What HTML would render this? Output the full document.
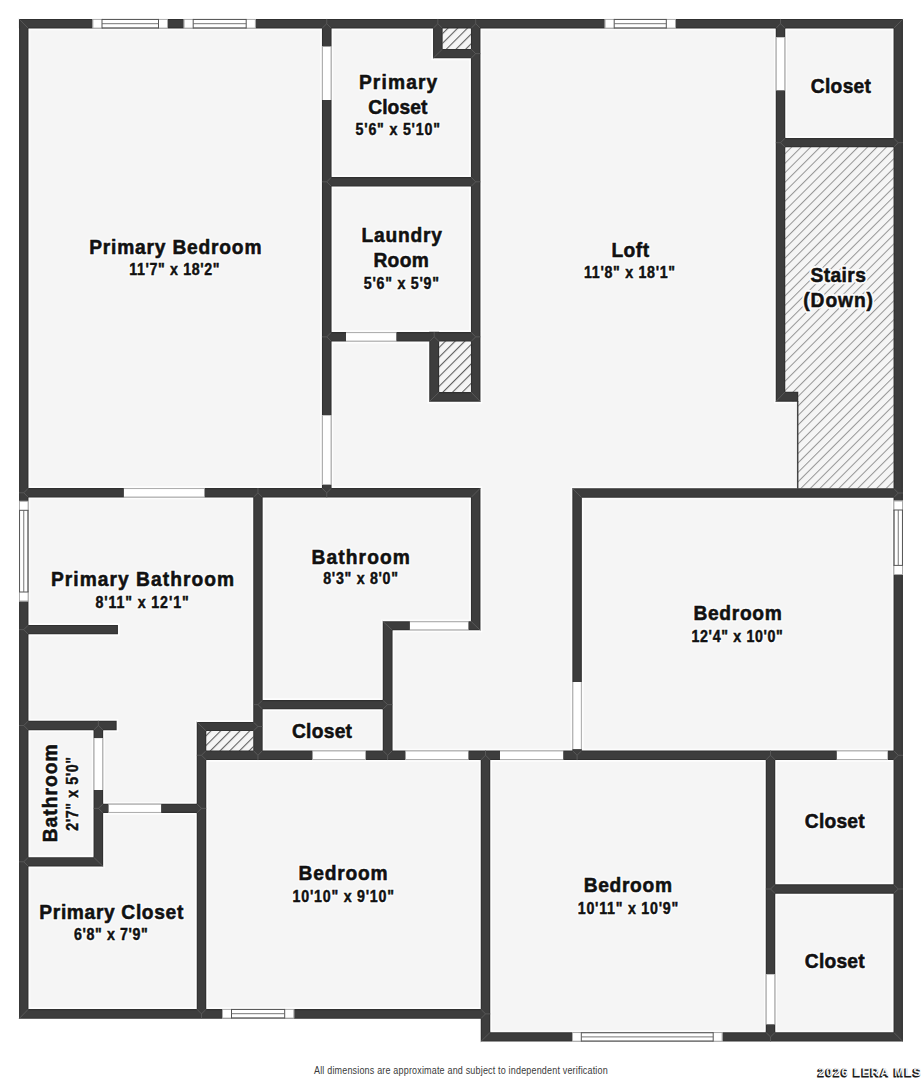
<!DOCTYPE html>
<html><head><meta charset="utf-8"><style>
html,body{margin:0;padding:0;background:#fff;}
svg{display:block;font-family:"Liberation Sans",sans-serif;}
</style></head><body>
<svg width="922" height="1080" viewBox="0 0 922 1080">
<defs>
<pattern id="hatch" patternUnits="userSpaceOnUse" width="6.7" height="6.7" patternTransform="rotate(45)">
<rect width="6.7" height="6.7" fill="#f5f5f5"/>
<rect x="0" y="0" width="1.0" height="6.7" fill="#959595"/>
</pattern>
<pattern id="hatch2" patternUnits="userSpaceOnUse" width="6.86" height="6.86" patternTransform="rotate(45)">
<rect width="6.86" height="6.86" fill="#f5f5f5"/>
<rect x="0" y="0" width="1.1" height="6.86" fill="#606060"/>
</pattern>
</defs>
<rect width="922" height="1080" fill="#fff"/>
<path d="M19.2 19.2 H902.7 V1041.3 H481 V1018.2 H19.2 Z" fill="#f5f5f5"/>
<path d="M18.95 18.95H902.95V28.45H18.95ZM19.05 18.95H28.45V1018.45H19.05ZM893.55 18.95H902.95V1041.55H893.55ZM19.05 1009.05H490.25V1018.75H19.05ZM480.75 1032.25H902.95V1041.55H480.75ZM480.75 750.75H490.25V1041.55H480.75ZM321.95 18.95H331.55V497.55H321.95ZM470.95 18.95H480.45V401.65H470.95ZM433.05 18.95H442.65V58.35H433.05ZM433.05 48.95H480.45V58.35H433.05ZM321.95 177.05H480.45V186.55H321.95ZM321.95 332.10H480.45V341.60H321.95ZM429.25 331.75H439.15V401.65H429.25ZM429.25 392.05H480.45V401.65H429.25ZM775.75 18.95H785.25V401.65H775.75ZM775.75 138.05H902.95V147.35H775.75ZM775.75 391.75H798.25V401.65H775.75ZM19.05 488.05H480.45V497.55H19.05ZM572.35 488.25H902.95V497.75H572.35ZM253.25 488.05H262.65V759.95H253.25ZM470.95 488.05H480.45V630.35H470.95ZM382.75 621.25H480.45V630.35H382.75ZM382.75 621.25H392.55V759.95H382.75ZM253.25 700.05H392.55V709.25H253.25ZM196.75 750.45H902.95V760.05H196.75ZM572.35 488.25H581.85V759.95H572.35ZM19.05 624.95H117.95V634.35H19.05ZM19.05 720.75H116.65V730.25H19.05ZM93.55 720.75H103.15V866.45H93.55ZM19.05 857.15H103.15V866.45H19.05ZM93.55 803.75H206.25V812.95H93.55ZM196.75 721.95H206.25V1018.45H196.75ZM196.95 721.95H262.35V731.05H196.95ZM765.75 750.75H775.25V1041.55H765.75ZM765.75 884.35H902.95V893.65H765.75Z" fill="none" stroke="#ffffff" stroke-opacity="0.75" stroke-width="3.6"/>
<rect x="442.40" y="27.80" width="28.50" height="21.40" fill="url(#hatch2)" />
<rect x="438.90" y="341.00" width="32.30" height="51.30" fill="url(#hatch2)" />
<rect x="206.00" y="730.80" width="47.50" height="20.20" fill="url(#hatch2)" />
<rect x="785.00" y="147.00" width="108.80" height="254.40" fill="url(#hatch)" />
<rect x="797.50" y="392.00" width="96.30" height="96.50" fill="url(#hatch)" />
<line x1="797.7" y1="401" x2="797.7" y2="488.5" stroke="#444" stroke-width="1.5"/>
<path d="M18.95 18.95H902.95V28.45H18.95ZM19.05 18.95H28.45V1018.45H19.05ZM893.55 18.95H902.95V1041.55H893.55ZM19.05 1009.05H490.25V1018.75H19.05ZM480.75 1032.25H902.95V1041.55H480.75ZM480.75 750.75H490.25V1041.55H480.75ZM321.95 18.95H331.55V497.55H321.95ZM470.95 18.95H480.45V401.65H470.95ZM433.05 18.95H442.65V58.35H433.05ZM433.05 48.95H480.45V58.35H433.05ZM321.95 177.05H480.45V186.55H321.95ZM321.95 332.10H480.45V341.60H321.95ZM429.25 331.75H439.15V401.65H429.25ZM429.25 392.05H480.45V401.65H429.25ZM775.75 18.95H785.25V401.65H775.75ZM775.75 138.05H902.95V147.35H775.75ZM775.75 391.75H798.25V401.65H775.75ZM19.05 488.05H480.45V497.55H19.05ZM572.35 488.25H902.95V497.75H572.35ZM253.25 488.05H262.65V759.95H253.25ZM470.95 488.05H480.45V630.35H470.95ZM382.75 621.25H480.45V630.35H382.75ZM382.75 621.25H392.55V759.95H382.75ZM253.25 700.05H392.55V709.25H253.25ZM196.75 750.45H902.95V760.05H196.75ZM572.35 488.25H581.85V759.95H572.35ZM19.05 624.95H117.95V634.35H19.05ZM19.05 720.75H116.65V730.25H19.05ZM93.55 720.75H103.15V866.45H93.55ZM19.05 857.15H103.15V866.45H19.05ZM93.55 803.75H206.25V812.95H93.55ZM196.75 721.95H206.25V1018.45H196.75ZM196.95 721.95H262.35V731.05H196.95ZM765.75 750.75H775.25V1041.55H765.75ZM765.75 884.35H902.95V893.65H765.75Z" fill="#303030"/>
<path d="M20.05 20.05H901.85V27.35H20.05ZM20.15 20.05H27.35V1017.35H20.15ZM894.65 20.05H901.85V1040.45H894.65ZM20.15 1010.15H489.15V1017.65H20.15ZM481.85 1033.35H901.85V1040.45H481.85ZM481.85 751.85H489.15V1040.45H481.85ZM323.05 20.05H330.45V496.45H323.05ZM472.05 20.05H479.35V400.55H472.05ZM434.15 20.05H441.55V57.25H434.15ZM434.15 50.05H479.35V57.25H434.15ZM323.05 178.15H479.35V185.45H323.05ZM323.05 333.20H479.35V340.50H323.05ZM430.35 332.85H438.05V400.55H430.35ZM430.35 393.15H479.35V400.55H430.35ZM776.85 20.05H784.15V400.55H776.85ZM776.85 139.15H901.85V146.25H776.85ZM776.85 392.85H797.15V400.55H776.85ZM20.15 489.15H479.35V496.45H20.15ZM573.45 489.35H901.85V496.65H573.45ZM254.35 489.15H261.55V758.85H254.35ZM472.05 489.15H479.35V629.25H472.05ZM383.85 622.35H479.35V629.25H383.85ZM383.85 622.35H391.45V758.85H383.85ZM254.35 701.15H391.45V708.15H254.35ZM197.85 751.55H901.85V758.95H197.85ZM573.45 489.35H580.75V758.85H573.45ZM20.15 626.05H116.85V633.25H20.15ZM20.15 721.85H115.55V729.15H20.15ZM94.65 721.85H102.05V865.35H94.65ZM20.15 858.25H102.05V865.35H20.15ZM94.65 804.85H205.15V811.85H94.65ZM197.85 723.05H205.15V1017.35H197.85ZM198.05 723.05H261.25V729.95H198.05ZM766.85 751.85H774.15V1040.45H766.85ZM766.85 885.45H901.85V892.55H766.85Z" fill="#3d3d3d"/>
<path d="M19.05 18.95L28.45 28.45M902.95 18.95L893.55 28.45M326.75 18.95V23.70L321.95 28.45M326.75 23.70L331.55 28.45M475.70 18.95V23.70L470.95 28.45M475.70 23.70L480.45 28.45M437.85 18.95V23.70L433.05 28.45M437.85 23.70L442.65 28.45M780.50 18.95V23.70L775.75 28.45M780.50 23.70L785.25 28.45M19.05 1018.75L28.45 1009.05M19.05 492.80H23.75L28.45 488.05M23.75 492.80L28.45 497.55M19.05 629.65H23.75L28.45 624.95M23.75 629.65L28.45 634.35M19.05 725.50H23.75L28.45 720.75M23.75 725.50L28.45 730.25M19.05 861.80H23.75L28.45 857.15M23.75 861.80L28.45 866.45M902.95 1041.55L893.55 1032.25M902.95 142.70H898.25L893.55 138.05M898.25 142.70L893.55 147.35M902.95 493.00H898.25L893.55 488.25M898.25 493.00L893.55 497.75M902.95 755.25H898.25L893.55 750.45M898.25 755.25L893.55 760.05M902.95 889.00H898.25L893.55 884.35M898.25 889.00L893.55 893.65M490.25 1013.90H485.50L480.75 1009.05M485.50 1013.90L480.75 1018.75M201.50 1018.75V1013.90L196.75 1009.05M201.50 1013.90L206.25 1009.05M480.75 1041.55L490.25 1032.25M770.50 1041.55V1036.90L765.75 1032.25M770.50 1036.90L775.25 1032.25M485.50 750.45V755.25L480.75 760.05M485.50 755.25L490.25 760.05M321.95 181.80H326.75L331.55 177.05M326.75 181.80L331.55 186.55M321.95 336.85H326.75L331.55 332.10M326.75 336.85L331.55 341.60M326.75 497.55V492.80L321.95 488.05M326.75 492.80L331.55 488.05M480.45 53.65H475.70L470.95 48.95M475.70 53.65L470.95 58.35M480.45 181.80H475.70L470.95 177.05M475.70 181.80L470.95 186.55M480.45 336.85H475.70L470.95 332.10M475.70 336.85L470.95 341.60M480.45 401.65L470.95 392.05M433.05 58.35L442.65 48.95M434.20 332.10V336.85L429.25 341.60M434.20 336.85L439.15 341.60M429.25 401.65L439.15 392.05M775.75 142.70H780.50L785.25 138.05M780.50 142.70L785.25 147.35M775.75 401.65L785.25 391.75M257.95 488.05V492.80L253.25 497.55M257.95 492.80L262.65 497.55M480.45 488.05L470.95 497.55M572.35 488.25L581.85 497.75M253.25 704.65H257.95L262.65 700.05M257.95 704.65L262.65 709.25M257.95 760.05V755.25L253.25 750.45M257.95 755.25L262.65 750.45M262.65 726.50H257.95L253.25 721.95M257.95 726.50L253.25 731.05M480.45 630.35L470.95 621.25M382.75 621.25L392.55 630.35M392.55 704.65H387.65L382.75 700.05M387.65 704.65L382.75 709.25M387.65 760.05V755.25L382.75 750.45M387.65 755.25L392.55 750.45M577.10 760.05V755.25L572.35 750.45M577.10 755.25L581.85 750.45M196.75 755.25H201.50L206.25 750.45M201.50 755.25L206.25 760.05M770.50 750.45V755.25L765.75 760.05M770.50 755.25L775.25 760.05M98.35 720.75V725.50L93.55 730.25M98.35 725.50L103.15 730.25M103.15 866.45L93.55 857.15M93.55 808.35H98.35L103.15 803.75M98.35 808.35L103.15 812.95M206.25 808.35H201.50L196.75 803.75M201.50 808.35L196.75 812.95M196.75 721.95L206.25 731.05M765.75 889.00H770.50L775.25 884.35M770.50 889.00L775.25 893.65" fill="none" stroke="#5e5e5e" stroke-width="0.8"/>
<rect x="321.95" y="46.50" width="9.60" height="53.50" fill="#ffffff" />
<path d="M322.45 46.5V100M331.05 46.5V100" stroke="#aaa" stroke-width="1"/>
<rect x="321.95" y="415.30" width="9.60" height="69.30" fill="#ffffff" />
<path d="M322.45 415.3V484.6M331.05 415.3V484.6" stroke="#aaa" stroke-width="1"/>
<rect x="346.00" y="332.10" width="50.30" height="9.50" fill="#ffffff" />
<path d="M346 332.6H396.3M346 341.1H396.3" stroke="#aaa" stroke-width="1"/>
<rect x="775.75" y="37.30" width="9.50" height="53.00" fill="#ffffff" />
<path d="M776.25 37.3V90.3M784.75 37.3V90.3" stroke="#aaa" stroke-width="1"/>
<rect x="123.90" y="488.05" width="80.60" height="9.50" fill="#ffffff" />
<path d="M123.9 488.55H204.5M123.9 497.05H204.5" stroke="#aaa" stroke-width="1"/>
<rect x="409.90" y="621.25" width="58.50" height="9.10" fill="#ffffff" />
<path d="M409.9 621.75H468.4M409.9 629.85H468.4" stroke="#aaa" stroke-width="1"/>
<rect x="312.50" y="750.45" width="53.10" height="9.60" fill="#ffffff" />
<path d="M312.5 750.95H365.6M312.5 759.55H365.6" stroke="#aaa" stroke-width="1"/>
<rect x="405.50" y="750.45" width="62.90" height="9.60" fill="#ffffff" />
<path d="M405.5 750.95H468.4M405.5 759.55H468.4" stroke="#aaa" stroke-width="1"/>
<rect x="500.00" y="750.45" width="63.20" height="9.60" fill="#ffffff" />
<path d="M500 750.95H563.2M500 759.55H563.2" stroke="#aaa" stroke-width="1"/>
<rect x="836.80" y="750.45" width="50.90" height="9.60" fill="#ffffff" />
<path d="M836.8 750.95H887.7M836.8 759.55H887.7" stroke="#aaa" stroke-width="1"/>
<rect x="572.35" y="682.00" width="9.50" height="67.10" fill="#ffffff" />
<path d="M572.85 682V749.1M581.35 682V749.1" stroke="#aaa" stroke-width="1"/>
<rect x="93.55" y="738.10" width="9.60" height="51.90" fill="#ffffff" />
<path d="M94.05 738.1V790M102.65 738.1V790" stroke="#aaa" stroke-width="1"/>
<rect x="108.60" y="803.75" width="52.50" height="9.20" fill="#ffffff" />
<path d="M108.6 804.25H161.1M108.6 812.45H161.1" stroke="#aaa" stroke-width="1"/>
<rect x="765.75" y="974.30" width="9.50" height="50.00" fill="#ffffff" />
<path d="M766.25 974.3V1024.3M774.75 974.3V1024.3" stroke="#aaa" stroke-width="1"/>
<rect x="92.50" y="18.95" width="75.50" height="9.50" fill="#ffffff" />
<rect x="92.90" y="19.35" width="74.70" height="8.70" fill="none" stroke="#9a9a9a" stroke-width="0.8"/>
<path d="M102.00 18.95V28.45M158.50 18.95V28.45M102.00 19.45H158.50M158.50 27.95H102.00" stroke="#555" stroke-width="1" fill="none"/>
<path d="M102.00 23.70H158.50" stroke="#666" stroke-width="0.9" fill="none"/>
<rect x="183.70" y="18.95" width="72.00" height="9.50" fill="#ffffff" />
<rect x="184.10" y="19.35" width="71.20" height="8.70" fill="none" stroke="#9a9a9a" stroke-width="0.8"/>
<path d="M193.20 18.95V28.45M246.20 18.95V28.45M193.20 19.45H246.20M246.20 27.95H193.20" stroke="#555" stroke-width="1" fill="none"/>
<path d="M193.20 23.70H246.20" stroke="#666" stroke-width="0.9" fill="none"/>
<rect x="604.70" y="18.95" width="71.10" height="9.50" fill="#ffffff" />
<rect x="605.10" y="19.35" width="70.30" height="8.70" fill="none" stroke="#9a9a9a" stroke-width="0.8"/>
<path d="M614.20 18.95V28.45M666.30 18.95V28.45M614.20 19.45H666.30M666.30 27.95H614.20" stroke="#555" stroke-width="1" fill="none"/>
<path d="M614.20 23.70H666.30" stroke="#666" stroke-width="0.9" fill="none"/>
<rect x="19.05" y="500.90" width="9.40" height="100.50" fill="#ffffff" />
<rect x="19.45" y="501.30" width="8.60" height="99.70" fill="none" stroke="#9a9a9a" stroke-width="0.8"/>
<path d="M19.05 510.30H28.45M19.05 592.00H28.45M19.55 510.30V592.00M27.95 510.30V592.00" stroke="#555" stroke-width="1" fill="none"/>
<path d="M23.75 510.30V592.00" stroke="#666" stroke-width="0.9" fill="none"/>
<rect x="893.55" y="500.60" width="9.40" height="74.20" fill="#ffffff" />
<rect x="893.95" y="501.00" width="8.60" height="73.40" fill="none" stroke="#9a9a9a" stroke-width="0.8"/>
<path d="M893.55 510.00H902.95M893.55 565.40H902.95M894.05 510.00V565.40M902.45 510.00V565.40" stroke="#555" stroke-width="1" fill="none"/>
<path d="M898.25 510.00V565.40" stroke="#666" stroke-width="0.9" fill="none"/>
<rect x="222.00" y="1008.95" width="72.20" height="9.50" fill="#ffffff" />
<rect x="222.40" y="1009.35" width="71.40" height="8.70" fill="none" stroke="#9a9a9a" stroke-width="0.8"/>
<path d="M231.50 1008.95V1018.45M284.70 1008.95V1018.45M231.50 1009.45H284.70M284.70 1017.95H231.50" stroke="#555" stroke-width="1" fill="none"/>
<path d="M231.50 1013.70H284.70" stroke="#666" stroke-width="0.9" fill="none"/>
<rect x="572.00" y="1032.25" width="150.50" height="9.30" fill="#ffffff" />
<rect x="572.40" y="1032.65" width="149.70" height="8.50" fill="none" stroke="#9a9a9a" stroke-width="0.8"/>
<path d="M581.30 1032.25V1041.55M713.20 1032.25V1041.55M581.30 1032.75H713.20M713.20 1041.05H581.30" stroke="#555" stroke-width="1" fill="none"/>
<path d="M581.30 1036.90H713.20" stroke="#666" stroke-width="0.9" fill="none"/>
<g transform="translate(358.90 88.80) scale(0.96 1)">
<text x="0" y="0" font-size="20" font-weight="bold" letter-spacing="1.194" fill="none" stroke="#fff" stroke-width="3.5" stroke-linejoin="round" stroke-opacity="0.7">Primary</text>
<text x="0" y="0" font-size="20" font-weight="bold" letter-spacing="1.194" fill="#111" stroke="#111" stroke-width="0.55">Primary</text>
</g>
<g transform="translate(368.20 113.60) scale(0.96 1)">
<text x="0" y="0" font-size="20" font-weight="bold" letter-spacing="0.113" fill="none" stroke="#fff" stroke-width="3.5" stroke-linejoin="round" stroke-opacity="0.7">Closet</text>
<text x="0" y="0" font-size="20" font-weight="bold" letter-spacing="0.113" fill="#111" stroke="#111" stroke-width="0.55">Closet</text>
</g>
<g transform="translate(355.50 135.40) scale(0.89 1)">
<text x="0" y="0" font-size="16" font-weight="bold" letter-spacing="0.905" fill="none" stroke="#fff" stroke-width="3.5" stroke-linejoin="round" stroke-opacity="0.7">5'6&quot; x 5'10&quot;</text>
<text x="0" y="0" font-size="16" font-weight="bold" letter-spacing="0.905" fill="#111" stroke="#111" stroke-width="0.45">5'6&quot; x 5'10&quot;</text>
</g>
<g transform="translate(89.20 253.70) scale(0.96 1)">
<text x="0" y="0" font-size="20" font-weight="bold" letter-spacing="0.834" fill="none" stroke="#fff" stroke-width="3.5" stroke-linejoin="round" stroke-opacity="0.7">Primary Bedroom</text>
<text x="0" y="0" font-size="20" font-weight="bold" letter-spacing="0.834" fill="#111" stroke="#111" stroke-width="0.55">Primary Bedroom</text>
</g>
<g transform="translate(129.30 275.40) scale(0.89 1)">
<text x="0" y="0" font-size="16" font-weight="bold" letter-spacing="0.697" fill="none" stroke="#fff" stroke-width="3.5" stroke-linejoin="round" stroke-opacity="0.7">11'7&quot; x 18'2&quot;</text>
<text x="0" y="0" font-size="16" font-weight="bold" letter-spacing="0.697" fill="#111" stroke="#111" stroke-width="0.45">11'7&quot; x 18'2&quot;</text>
</g>
<g transform="translate(361.40 241.80) scale(0.96 1)">
<text x="0" y="0" font-size="20" font-weight="bold" letter-spacing="0.843" fill="none" stroke="#fff" stroke-width="3.5" stroke-linejoin="round" stroke-opacity="0.7">Laundry</text>
<text x="0" y="0" font-size="20" font-weight="bold" letter-spacing="0.843" fill="#111" stroke="#111" stroke-width="0.55">Laundry</text>
</g>
<g transform="translate(373.40 267.00) scale(0.96 1)">
<text x="0" y="0" font-size="20" font-weight="bold" letter-spacing="0.336" fill="none" stroke="#fff" stroke-width="3.5" stroke-linejoin="round" stroke-opacity="0.7">Room</text>
<text x="0" y="0" font-size="20" font-weight="bold" letter-spacing="0.336" fill="#111" stroke="#111" stroke-width="0.55">Room</text>
</g>
<g transform="translate(363.80 288.80) scale(0.89 1)">
<text x="0" y="0" font-size="16" font-weight="bold" letter-spacing="0.841" fill="none" stroke="#fff" stroke-width="3.5" stroke-linejoin="round" stroke-opacity="0.7">5'6&quot; x 5'9&quot;</text>
<text x="0" y="0" font-size="16" font-weight="bold" letter-spacing="0.841" fill="#111" stroke="#111" stroke-width="0.45">5'6&quot; x 5'9&quot;</text>
</g>
<g transform="translate(611.40 256.70) scale(0.96 1)">
<text x="0" y="0" font-size="20" font-weight="bold" letter-spacing="0.490" fill="none" stroke="#fff" stroke-width="3.5" stroke-linejoin="round" stroke-opacity="0.7">Loft</text>
<text x="0" y="0" font-size="20" font-weight="bold" letter-spacing="0.490" fill="#111" stroke="#111" stroke-width="0.55">Loft</text>
</g>
<g transform="translate(584.00 278.20) scale(0.89 1)">
<text x="0" y="0" font-size="16" font-weight="bold" letter-spacing="0.781" fill="none" stroke="#fff" stroke-width="3.5" stroke-linejoin="round" stroke-opacity="0.7">11'8&quot; x 18'1&quot;</text>
<text x="0" y="0" font-size="16" font-weight="bold" letter-spacing="0.781" fill="#111" stroke="#111" stroke-width="0.45">11'8&quot; x 18'1&quot;</text>
</g>
<g transform="translate(810.80 93.40) scale(0.96 1)">
<text x="0" y="0" font-size="20" font-weight="bold" letter-spacing="0.322" fill="none" stroke="#fff" stroke-width="3.5" stroke-linejoin="round" stroke-opacity="0.7">Closet</text>
<text x="0" y="0" font-size="20" font-weight="bold" letter-spacing="0.322" fill="#111" stroke="#111" stroke-width="0.55">Closet</text>
</g>
<g transform="translate(810.60 282.00) scale(0.96 1)">
<text x="0" y="0" font-size="20" font-weight="bold" letter-spacing="0.401" fill="none" stroke="#f5f5f5" stroke-width="4.5" stroke-linejoin="round" stroke-opacity="1">Stairs</text>
<text x="0" y="0" font-size="20" font-weight="bold" letter-spacing="0.401" fill="none" >Stairs</text>
</g>
<g transform="translate(810.60 282.00) scale(0.96 1)">
<text x="0" y="0" font-size="20" font-weight="bold" letter-spacing="0.401" fill="none" stroke="#fff" stroke-width="3.5" stroke-linejoin="round" stroke-opacity="0.7">Stairs</text>
<text x="0" y="0" font-size="20" font-weight="bold" letter-spacing="0.401" fill="#111" stroke="#111" stroke-width="0.55">Stairs</text>
</g>
<g transform="translate(803.30 307.20) scale(0.96 1)">
<text x="0" y="0" font-size="20" font-weight="bold" letter-spacing="0.961" fill="none" stroke="#f5f5f5" stroke-width="4.5" stroke-linejoin="round" stroke-opacity="1">(Down)</text>
<text x="0" y="0" font-size="20" font-weight="bold" letter-spacing="0.961" fill="none" >(Down)</text>
</g>
<g transform="translate(803.30 307.20) scale(0.96 1)">
<text x="0" y="0" font-size="20" font-weight="bold" letter-spacing="0.961" fill="none" stroke="#fff" stroke-width="3.5" stroke-linejoin="round" stroke-opacity="0.7">(Down)</text>
<text x="0" y="0" font-size="20" font-weight="bold" letter-spacing="0.961" fill="#111" stroke="#111" stroke-width="0.55">(Down)</text>
</g>
<g transform="translate(51.00 586.10) scale(0.96 1)">
<text x="0" y="0" font-size="20" font-weight="bold" letter-spacing="1.082" fill="none" stroke="#fff" stroke-width="3.5" stroke-linejoin="round" stroke-opacity="0.7">Primary Bathroom</text>
<text x="0" y="0" font-size="20" font-weight="bold" letter-spacing="1.082" fill="#111" stroke="#111" stroke-width="0.55">Primary Bathroom</text>
</g>
<g transform="translate(95.40 608.00) scale(0.89 1)">
<text x="0" y="0" font-size="16" font-weight="bold" letter-spacing="0.987" fill="none" stroke="#fff" stroke-width="3.5" stroke-linejoin="round" stroke-opacity="0.7">8'11&quot; x 12'1&quot;</text>
<text x="0" y="0" font-size="16" font-weight="bold" letter-spacing="0.987" fill="#111" stroke="#111" stroke-width="0.45">8'11&quot; x 12'1&quot;</text>
</g>
<g transform="translate(311.50 563.70) scale(0.96 1)">
<text x="0" y="0" font-size="20" font-weight="bold" letter-spacing="1.157" fill="none" stroke="#fff" stroke-width="3.5" stroke-linejoin="round" stroke-opacity="0.7">Bathroom</text>
<text x="0" y="0" font-size="20" font-weight="bold" letter-spacing="1.157" fill="#111" stroke="#111" stroke-width="0.55">Bathroom</text>
</g>
<g transform="translate(323.20 584.00) scale(0.89 1)">
<text x="0" y="0" font-size="16" font-weight="bold" letter-spacing="0.796" fill="none" stroke="#fff" stroke-width="3.5" stroke-linejoin="round" stroke-opacity="0.7">8'3&quot; x 8'0&quot;</text>
<text x="0" y="0" font-size="16" font-weight="bold" letter-spacing="0.796" fill="#111" stroke="#111" stroke-width="0.45">8'3&quot; x 8'0&quot;</text>
</g>
<g transform="translate(291.90 737.50) scale(0.96 1)">
<text x="0" y="0" font-size="20" font-weight="bold" letter-spacing="0.301" fill="none" stroke="#fff" stroke-width="3.5" stroke-linejoin="round" stroke-opacity="0.7">Closet</text>
<text x="0" y="0" font-size="20" font-weight="bold" letter-spacing="0.301" fill="#111" stroke="#111" stroke-width="0.55">Closet</text>
</g>
<g transform="translate(693.50 620.00) scale(0.96 1)">
<text x="0" y="0" font-size="20" font-weight="bold" letter-spacing="0.697" fill="none" stroke="#fff" stroke-width="3.5" stroke-linejoin="round" stroke-opacity="0.7">Bedroom</text>
<text x="0" y="0" font-size="20" font-weight="bold" letter-spacing="0.697" fill="#111" stroke="#111" stroke-width="0.55">Bedroom</text>
</g>
<g transform="translate(691.50 641.60) scale(0.89 1)">
<text x="0" y="0" font-size="16" font-weight="bold" letter-spacing="0.734" fill="none" stroke="#fff" stroke-width="3.5" stroke-linejoin="round" stroke-opacity="0.7">12'4&quot; x 10'0&quot;</text>
<text x="0" y="0" font-size="16" font-weight="bold" letter-spacing="0.734" fill="#111" stroke="#111" stroke-width="0.45">12'4&quot; x 10'0&quot;</text>
</g>
<g transform="translate(39.30 919.00) scale(0.96 1)">
<text x="0" y="0" font-size="20" font-weight="bold" letter-spacing="0.685" fill="none" stroke="#fff" stroke-width="3.5" stroke-linejoin="round" stroke-opacity="0.7">Primary Closet</text>
<text x="0" y="0" font-size="20" font-weight="bold" letter-spacing="0.685" fill="#111" stroke="#111" stroke-width="0.55">Primary Closet</text>
</g>
<g transform="translate(73.90 940.20) scale(0.89 1)">
<text x="0" y="0" font-size="16" font-weight="bold" letter-spacing="0.695" fill="none" stroke="#fff" stroke-width="3.5" stroke-linejoin="round" stroke-opacity="0.7">6'8&quot; x 7'9&quot;</text>
<text x="0" y="0" font-size="16" font-weight="bold" letter-spacing="0.695" fill="#111" stroke="#111" stroke-width="0.45">6'8&quot; x 7'9&quot;</text>
</g>
<g transform="translate(298.60 880.20) scale(0.96 1)">
<text x="0" y="0" font-size="20" font-weight="bold" letter-spacing="0.835" fill="none" stroke="#fff" stroke-width="3.5" stroke-linejoin="round" stroke-opacity="0.7">Bedroom</text>
<text x="0" y="0" font-size="20" font-weight="bold" letter-spacing="0.835" fill="#111" stroke="#111" stroke-width="0.55">Bedroom</text>
</g>
<g transform="translate(292.60 902.10) scale(0.89 1)">
<text x="0" y="0" font-size="16" font-weight="bold" letter-spacing="0.857" fill="none" stroke="#fff" stroke-width="3.5" stroke-linejoin="round" stroke-opacity="0.7">10'10&quot; x 9'10&quot;</text>
<text x="0" y="0" font-size="16" font-weight="bold" letter-spacing="0.857" fill="#111" stroke="#111" stroke-width="0.45">10'10&quot; x 9'10&quot;</text>
</g>
<g transform="translate(583.70 892.00) scale(0.96 1)">
<text x="0" y="0" font-size="20" font-weight="bold" letter-spacing="0.697" fill="none" stroke="#fff" stroke-width="3.5" stroke-linejoin="round" stroke-opacity="0.7">Bedroom</text>
<text x="0" y="0" font-size="20" font-weight="bold" letter-spacing="0.697" fill="#111" stroke="#111" stroke-width="0.55">Bedroom</text>
</g>
<g transform="translate(577.80 914.00) scale(0.89 1)">
<text x="0" y="0" font-size="16" font-weight="bold" letter-spacing="0.840" fill="none" stroke="#fff" stroke-width="3.5" stroke-linejoin="round" stroke-opacity="0.7">10'11&quot; x 10'9&quot;</text>
<text x="0" y="0" font-size="16" font-weight="bold" letter-spacing="0.840" fill="#111" stroke="#111" stroke-width="0.45">10'11&quot; x 10'9&quot;</text>
</g>
<g transform="translate(804.80 828.20) scale(0.96 1)">
<text x="0" y="0" font-size="20" font-weight="bold" letter-spacing="0.238" fill="none" stroke="#fff" stroke-width="3.5" stroke-linejoin="round" stroke-opacity="0.7">Closet</text>
<text x="0" y="0" font-size="20" font-weight="bold" letter-spacing="0.238" fill="#111" stroke="#111" stroke-width="0.55">Closet</text>
</g>
<g transform="translate(804.80 968.00) scale(0.96 1)">
<text x="0" y="0" font-size="20" font-weight="bold" letter-spacing="0.238" fill="none" stroke="#fff" stroke-width="3.5" stroke-linejoin="round" stroke-opacity="0.7">Closet</text>
<text x="0" y="0" font-size="20" font-weight="bold" letter-spacing="0.238" fill="#111" stroke="#111" stroke-width="0.55">Closet</text>
</g>
<g transform="rotate(-90) translate(-842.30 56.80) scale(0.96 1)">
<text x="0" y="0" font-size="20" font-weight="bold" letter-spacing="1.083" fill="none" stroke="#fff" stroke-width="3.5" stroke-linejoin="round" stroke-opacity="0.7">Bathroom</text>
<text x="0" y="0" font-size="20" font-weight="bold" letter-spacing="1.083" fill="#111" stroke="#111" stroke-width="0.55">Bathroom</text>
</g>
<g transform="rotate(-90) translate(-830.70 78.20) scale(0.89 1)">
<text x="0" y="0" font-size="16" font-weight="bold" letter-spacing="0.683" fill="none" stroke="#fff" stroke-width="3.5" stroke-linejoin="round" stroke-opacity="0.7">2'7&quot; x 5'0&quot;</text>
<text x="0" y="0" font-size="16" font-weight="bold" letter-spacing="0.683" fill="#111" stroke="#111" stroke-width="0.45">2'7&quot; x 5'0&quot;</text>
</g>
<g transform="translate(314.00 1073.90) scale(0.9 1)">
<text x="0" y="0" font-size="10" font-weight="normal" letter-spacing="0.200" fill="#3a3a3a" >All dimensions are approximate and subject to independent verification</text>
</g>
<g transform="translate(817.30 1076.80) scale(1.0 1)">
<text x="0" y="0" font-size="11.5" font-weight="bold" letter-spacing="1.300" fill="#1a1a1a" stroke="#1a1a1a" stroke-width="1.1">2026 LERA MLS</text>
</g>
<g transform="translate(818.30 1075.80) scale(1.0 1)">
<text x="0" y="0" font-size="11.5" font-weight="bold" letter-spacing="1.300" fill="#f2f2f2" >2026 LERA MLS</text>
</g>
</svg>
</body></html>
